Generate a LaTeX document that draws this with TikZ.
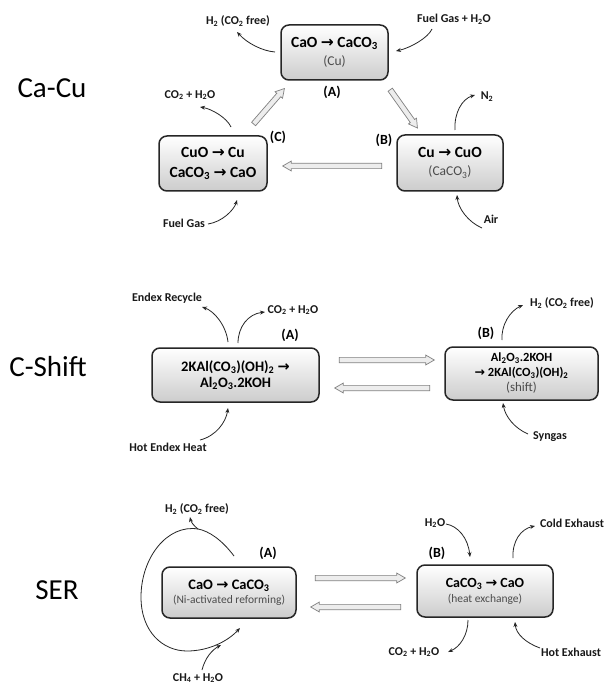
\documentclass[tikz,border=0pt]{standalone}
\usepackage{fontspec}
\setmainfont{Carlito}
\newfontfamily\arrfont{DejaVu Sans}
\usetikzlibrary{arrows.meta,shapes.arrows}
\definecolor{subgray}{gray}{0.3}
\newcommand\rarr{{\arrfont\bfseries\char"2192}}
\newcommand\sub[1]{\textsubscript{#1}}
\newcommand\fs[2]{\fontsize{#1}{#2}\selectfont}
\newcommand\subtxt[1]{{\mdseries\fontsize{#1}{10}\selectfont\color{subgray}}}
\begin{document}
\begin{tikzpicture}[x=1pt,y=-1pt,
  box/.style={draw=black!85, line width=1.5pt, rounded corners=8pt, top color=white, bottom color=black!20, align=center, inner sep=0pt},
  lbl/.style={font=\bfseries\fs{12}{14}, inner sep=0pt, text=black!90},
  tag/.style={font=\bfseries\fs{14}{16}, inner sep=0pt},
  sect/.style={font=\fs{29}{34}, inner sep=0pt},
  flow/.style={-{Stealth[length=5pt,width=4pt]}, line width=0.8pt, draw=black!85},
  plainflow/.style={line width=0.8pt, draw=black!85},
  hollow/.style={single arrow, draw=black!50, fill=black!7, line width=0.7pt, inner sep=2.3pt, single arrow head extend=2.3pt, single arrow tip angle=60, single arrow head indent=0pt}
]
\useasboundingbox (0,0) rectangle (610,684);
\fill[white] (0,0) rectangle (610,684);

% ---------- section titles
\node[sect] (tCaCu) at (52,88) {Ca-Cu};
\node[sect] (tCS) at (48,367) {C-Shift};
\node[sect] (tSER) at (57,590) {SER};

% ================= Ca-Cu
\node[box, minimum width=107pt, minimum height=55pt, font=\bfseries\fs{15.5}{18}] (cA) at (334.5,52.5)
  {CaO \rarr{} CaCO\sub{3}\\{\mdseries\fs{13.5}{18}\color{subgray}(Cu)}};
\node[box, minimum width=106pt, minimum height=56pt, font=\bfseries\fs{15.5}{18}] (cB) at (450,163)
  {Cu \rarr{} CuO\\{\mdseries\fs{13.5}{18}\color{subgray}(CaCO\sub{3})}};
\node[box, minimum width=108pt, minimum height=55pt, font=\bfseries\fs{15.5}{20}] (cC) at (213,163.5)
  {CuO \rarr{} Cu\\CaCO\sub{3} \rarr{} CaO};

\node[tag] (cAt) at (332,92) {(A)};
\node[tag] (cBt) at (384,140) {(B)};
\node[tag] (cCt) at (278,137) {(C)};

\node[hollow, minimum height=47pt, rotate=49] (hCA) at (267.5,108) {};
\node[hollow, minimum height=47pt, rotate=-54.6] (hAB) at (402.5,107) {};
\node[hollow, minimum height=99pt, rotate=180] (hBC) at (334.5,166) {};

\node[lbl] (cH2) at (238,21) {H\sub{2} (CO\sub{2} free)};
\node[lbl] (cFG) at (454,19) {Fuel Gas + H\sub{2}O};
\node[lbl] (cCO) at (190,95) {CO\sub{2} + H\sub{2}O};
\node[lbl] (cFG2) at (184,223) {Fuel Gas};
\node[lbl] (cN2) at (487,97) {N\sub{2}};
\node[lbl] (cAir) at (491,219) {Air};

\coordinate (a1s) at (275,52);  \coordinate (a1e) at (237,32);
\coordinate (a2s) at (432,29);  \coordinate (a2e) at (396,51);
\coordinate (a3s) at (231,127); \coordinate (a3e) at (200,107);
\coordinate (a4s) at (208,224); \coordinate (a4e) at (237,200);
\coordinate (a5s) at (455,130); \coordinate (a5e) at (475,95);
\coordinate (a6s) at (482,228); \coordinate (a6e) at (457,195);
\draw[flow] (a1s) .. controls (262,51) and (247,43) .. (a1e);
\draw[flow] (a2s) .. controls (428,38) and (410,48) .. (a2e);
\draw[flow] (a3s) .. controls (227,118) and (212,109) .. (a3e);
\draw[flow] (a4s) .. controls (222,222) and (234,210) .. (a4e);
\draw[flow] (a5s) .. controls (454,113) and (462,99) .. (a5e);
\draw[flow] (a6s) .. controls (468,222) and (458,208) .. (a6e);

% ================= C-Shift
\node[box, minimum width=167pt, minimum height=54pt, font=\bfseries\fs{14.5}{16}] (sA) at (235.5,375)
  {2KAl(CO\sub{3})(OH)\sub{2} \rarr\\Al\sub{2}O\sub{3}.2KOH};
\node[box, minimum width=153pt, minimum height=53pt, font=\bfseries\fs{12.5}{15}] (sB) at (521.5,373.5)
  {Al\sub{2}O\sub{3}.2KOH\\\rarr{} 2KAl(CO\sub{3})(OH)\sub{2}\\{\mdseries\fs{13}{15}\color{subgray}(shift)}};

\node[tag] (sAt) at (290,335) {(A)};
\node[tag] (sBt) at (486,333) {(B)};

\node[hollow, minimum height=95pt] (hSR) at (384.5,360) {};
\node[hollow, minimum height=95pt, rotate=180] (hSL) at (384.5,388) {};

\node[lbl] (sER) at (167,298) {Endex Recycle};
\node[lbl] (sCO) at (293,310) {CO\sub{2} + H\sub{2}O};
\node[lbl] (sHE) at (168,447) {Hot Endex Heat};
\node[lbl] (sH2) at (562,303) {H\sub{2} (CO\sub{2} free)};
\node[lbl] (sSy) at (550,437) {Syngas};

\coordinate (b1s) at (228,342); \coordinate (b1e) at (202,307);
\coordinate (b2s) at (238,343); \coordinate (b2e) at (265,312);
\coordinate (b3s) at (200,440); \coordinate (b3e) at (228,408);
\coordinate (b4s) at (502,340); \coordinate (b4e) at (523,305);
\coordinate (b5s) at (528,434); \coordinate (b5e) at (503,403);
\draw[flow] (b1s) .. controls (226,325) and (214,311) .. (b1e);
\draw[flow] (b2s) .. controls (238,327) and (248,314) .. (b2e);
\draw[flow] (b3s) .. controls (216,436) and (226,422) .. (b3e);
\draw[flow] (b4s) .. controls (501,325) and (510,311) .. (b4e);
\draw[flow] (b5s) .. controls (514,428) and (505,416) .. (b5e);

% ================= SER
\node[box, minimum width=134pt, minimum height=51pt, font=\bfseries\fs{14.5}{14}] (rA) at (229,592.5)
  {CaO \rarr{} CaCO\sub{3}\\{\mdseries\fs{11.5}{14}\color{subgray}(Ni-activated reforming)}};
\node[box, minimum width=136pt, minimum height=52pt, font=\bfseries\fs{14}{15}] (rB) at (485,591)
  {CaCO\sub{3} \rarr{} CaO\\{\mdseries\fs{11.5}{15}\color{subgray}(heat exchange)}};

\node[tag] (rAt) at (268,553) {(A)};
\node[tag] (rBt) at (437,553) {(B)};

\node[hollow, minimum height=90pt] (hRR) at (358,578) {};
\node[hollow, minimum height=90pt, rotate=180] (hRL) at (358,607) {};

\node[lbl] (rH2) at (197,509) {H\sub{2} (CO\sub{2} free)};
\node[lbl] (rCH) at (198,678) {CH\sub{4} + H\sub{2}O};
\node[lbl] (rW) at (435,523) {H\sub{2}O};
\node[lbl] (rCE) at (572,523) {Cold Exhaust};
\node[lbl] (rCO) at (414,652) {CO\sub{2} + H\sub{2}O};
\node[lbl] (rHE) at (571,652) {Hot Exhaust};

% loop around SER (A)
\coordinate (s0) at (234,556);
\coordinate (sj) at (198,529);
\coordinate (sh) at (190,517);
\coordinate (sl) at (141,597);
\coordinate (sb) at (187,651);
\coordinate (se) at (240,628);
\coordinate (c0) at (202,670);
\coordinate (cm) at (221,645);
\draw[plainflow] (s0) .. controls (222,540) and (209,531) .. (sj);
\draw[flow] (sj) .. controls (194,526) and (191,522) .. (sh);
\draw[flow] (sj) .. controls (167,524) and (141,558) .. (sl)
  .. controls (141,632) and (163,651) .. (sb)
  .. controls (209,651) and (228,641) .. (se);
\draw[flow] (c0) .. controls (205,658) and (212,650) .. (cm);

\coordinate (d1s) at (446,524); \coordinate (d1e) at (470,557);
\coordinate (d2s) at (513,558); \coordinate (d2e) at (535,526);
\coordinate (d3s) at (468,620); \coordinate (d3e) at (448,652);
\coordinate (d4s) at (540,648); \coordinate (d4e) at (515,622);
\draw[flow] (d1s) .. controls (458,526) and (468,538) .. (d1e);
\draw[flow] (d2s) .. controls (512,541) and (521,529) .. (d2e);
\draw[flow] (d3s) .. controls (468,635) and (460,647) .. (d3e);
\draw[flow] (d4s) .. controls (526,643) and (516,634) .. (d4e);
\end{tikzpicture}
\end{document}
